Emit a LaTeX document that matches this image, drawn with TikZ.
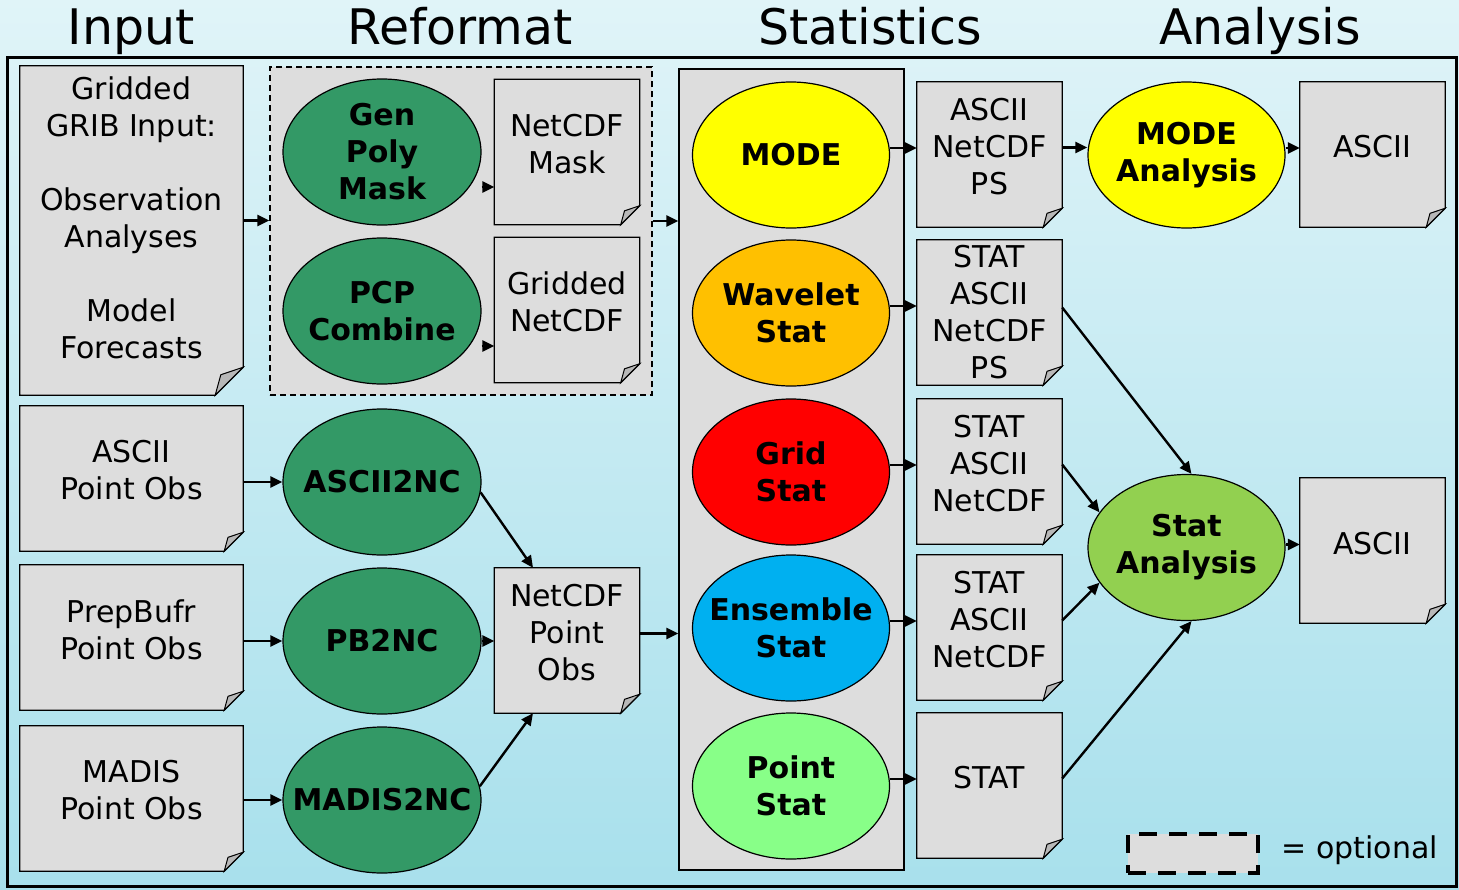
\documentclass[tikz,border=0pt]{standalone}
\usepackage{fontspec}
\setmainfont{DejaVu Sans}
\usetikzlibrary{arrows.meta,positioning,shapes.geometric}

\definecolor{docgray}{HTML}{DDDDDD}
\definecolor{foldgray}{HTML}{B8B8B8}
\definecolor{toolgreen}{HTML}{339966}
\definecolor{modeyellow}{HTML}{FFFF00}
\definecolor{waveorange}{HTML}{FFC000}
\definecolor{gridred}{HTML}{FF0000}
\definecolor{ensblue}{HTML}{00B0F0}
\definecolor{pointgreen}{HTML}{88FF88}
\definecolor{anagreen}{HTML}{92D050}
\definecolor{skytop}{HTML}{E0F4F8}
\definecolor{skybot}{HTML}{A8E0EC}

\begin{document}
\begin{tikzpicture}[x=1pt,y=-1pt,
  font=\fontsize{30}{37}\selectfont,
  sky/.style={top color=skytop,bottom color=skybot},
  doc/.style={rectangle,fill=docgray,inner sep=0pt,
    minimum width=145pt,minimum height=145pt},
  dtxt/.style={align=center,inner sep=0pt,yshift=#1},
  dtxt/.default=8pt,
  tool/.style={ellipse,draw,line width=1.2pt,minimum width=198pt,minimum height=146pt,
    inner xsep=-20pt,inner ysep=0pt,align=center,
    font=\fontsize{30}{37}\selectfont\bfseries},
  title/.style={font=\fontsize{49}{49}\selectfont,anchor=base},
  arr/.style={-{Triangle[length=12pt,width=11pt]},line width=2.4pt}]

% background and frame
\shade[sky] (0,0) rectangle (1459,889);
\draw[line width=3pt] (7,57) rectangle (1456,886);

% column titles
\node[title] (tin) at (131,44) {Input};
\node[title] (tref) at (460,44) {Reformat};
\node[title] (tsta) at (870,44) {Statistics};
\node[title] (tana) at (1260,44) {Analysis};

% input files
\node[doc,minimum width=223pt,minimum height=329pt,
  label={[dtxt=12.5pt]center:{Gridded\\GRIB Input:\\[37pt]Observation\\Analyses\\[37pt]Model\\Forecasts}}]
  (gribin) at (131.5,230.5) {};
\node[doc,minimum width=223pt,label={[dtxt]center:{ASCII\\Point Obs}}] (asciiobs) at (131.5,478.5) {};
\node[doc,minimum width=223pt,label={[dtxt]center:{PrepBufr\\Point Obs}}] (prepobs) at (131.5,637.5) {};
\node[doc,minimum width=223pt,label={[dtxt]center:{MADIS\\Point Obs}}] (madisobs) at (131.5,798.5) {};

% reformat tools
\node[draw,dash pattern=on 6pt off 4pt,line width=1.2pt,fill=docgray,inner sep=0pt,
  minimum width=382pt,minimum height=328pt] (opt) at (461,231) {};
\node[tool,fill=toolgreen] (gpm) at (382,152) {Gen\\Poly\\Mask};
\node[tool,fill=toolgreen] (pcp) at (382,311) {PCP\\Combine};
\node[tool,fill=toolgreen] (a2nc) at (382,482) {ASCII2NC};
\node[tool,fill=toolgreen] (pb2nc) at (382,641) {PB2NC};
\node[tool,fill=toolgreen] (m2nc) at (382,800) {MADIS2NC};
\node[doc,label={[dtxt]center:{NetCDF\\Mask}}] (nmask) at (567,152) {};
\node[doc,label={[dtxt]center:{Gridded\\NetCDF}}] (gnc) at (567,310) {};
\node[doc,label={[dtxt]center:{NetCDF\\Point\\Obs}}] (pnc) at (567,640.5) {};

% statistics tools
\node[draw,line width=1.2pt,fill=docgray,inner sep=0pt,
  minimum width=225pt,minimum height=801pt] (statbox) at (791.5,469.5) {};
\node[tool,fill=modeyellow,minimum width=197pt] (mode) at (791,155) {MODE};
\node[tool,fill=waveorange,minimum width=197pt] (wav) at (791,313) {Wavelet\\Stat};
\node[tool,fill=gridred,minimum width=197pt] (grid) at (791,472) {Grid\\Stat};
\node[tool,fill=ensblue,minimum width=197pt] (ens) at (791,628) {Ensemble\\Stat};
\node[tool,fill=pointgreen,minimum width=197pt] (pst) at (791,786) {Point\\Stat};
\node[doc,label={[dtxt]center:{ASCII\\NetCDF\\PS}}] (out1) at (989.5,154.5) {};
\node[doc,label={[dtxt=0pt]center:{STAT\\ASCII\\NetCDF\\PS}}] (out2) at (989.5,312.5) {};
\node[doc,label={[dtxt]center:{STAT\\ASCII\\NetCDF}}] (out3) at (989.5,471.5) {};
\node[doc,label={[dtxt]center:{STAT\\ASCII\\NetCDF}}] (out4) at (989.5,627.5) {};
\node[doc,label={[dtxt]center:{STAT}}] (out5) at (989.5,785.5) {};

% analysis tools
\node[tool,fill=modeyellow,minimum width=197pt] (mana) at (1186.5,155) {MODE\\Analysis};
\node[tool,fill=anagreen,minimum width=197pt] (sana) at (1186.5,547.5) {Stat\\Analysis};
\node[doc,label={[dtxt]center:{ASCII}}] (asc1) at (1372.5,154.5) {};
\node[doc,label={[dtxt=6.5pt]center:{ASCII}}] (asc2) at (1372.5,550.5) {};

% outlines with cut and folded corners
\foreach \d/\f/\g in {gribin/28/0,asciiobs/19/0,prepobs/19/0,madisobs/19/0,nmask/19/1,gnc/19/1,
    pnc/19/0,out1/19/0,out2/19/0,out3/19/0,out4/19/0,out5/19/0,asc1/19/0,asc2/19/0} {
  \coordinate (c) at (\d.south -| \d.east);
  \begin{scope}
    \clip ([shift={(0,-\f)}]c) -- ([shift={(1,-\f)}]c) -- ([shift={(1,1)}]c)
      -- ([shift={(-\f,1)}]c) -- ([shift={(-\f,0)}]c) -- cycle;
    \ifnum\g=1 \fill[docgray] (0,0) rectangle (1459,889);
    \else \shade[sky] (0,0) rectangle (1459,889); \fi
  \end{scope}
  \draw[line width=1.2pt] (\d.north west) -- (\d.north east) -- ([shift={(0,-\f)}]c)
    -- ([shift={(-\f,0)}]c) -- (\d.south west) -- cycle;
  \filldraw[fill=foldgray,line width=1pt] ([shift={(0,-\f)}]c) -- ([shift={(-\f,0)}]c)
    -- ([shift={(-0.8*\f,-0.73*\f)}]c) -- cycle;
}

% legend
\node[draw,dash pattern=on 18pt off 12pt,line width=4pt,fill=docgray,inner sep=0pt,
  minimum width=130pt,minimum height=39pt] (legbox) at (1193,853.5) {};
\node[right=18pt of legbox,yshift=3pt] (legtxt) {= optional};

% connectors
\draw[arr] ([yshift=10pt]gribin.east) -- ([yshift=10pt]gribin.east -| opt.west);
\draw[arr] ([yshift=-35pt]gpm.east) -- ([yshift=-35pt]gpm.east -| nmask.west);
\draw[arr] ([yshift=-35pt]pcp.east) -- ([yshift=-35pt]pcp.east -| gnc.west);
\draw[arr] ([yshift=10pt]opt.east) -- ([yshift=10pt]opt.east -| statbox.west);
\draw[arr] (a2nc.west -| asciiobs.east) -- (a2nc.west);
\draw[arr] (pb2nc.west -| prepobs.east) -- (pb2nc.west);
\draw[arr] (m2nc.west -| madisobs.east) -- (m2nc.west);
\draw[arr] (a2nc.-6) -- ([xshift=-34pt]pnc.north);
\draw[arr] (pb2nc.east) -- (pb2nc.east -| pnc.west);
\draw[arr] (m2nc.8) -- ([xshift=-34pt]pnc.south);
\draw[arr] ([yshift=7pt]pnc.east) -- ([yshift=7pt]pnc.east -| statbox.west);
\foreach \s/\o in {mode/out1,wav/out2,grid/out3,ens/out4,pst/out5}
  \draw[arr] ([yshift=7pt]\s.east) -- ([yshift=7pt]\s.east -| \o.west);
\draw[arr] ([yshift=7pt]out1.east) -- ([yshift=7pt]out1.east -| mana.west);
\draw[arr] ([yshift=7pt]mana.east) -- ([yshift=7pt]mana.east -| asc1.west);
\draw[arr] ([yshift=5pt]out2.east) -- ([xshift=5pt]sana.north);
\draw[arr] ([yshift=7pt]out3.east) -- (sana.158);
\draw[arr] ([yshift=7pt]out4.east) -- (sana.202);
\draw[arr] ([yshift=7pt]out5.east) -- ([xshift=5pt]sana.south);
\draw[arr] ([yshift=3pt]sana.east) -- ([yshift=3pt]sana.east -| asc2.west);
\end{tikzpicture}
\end{document}
